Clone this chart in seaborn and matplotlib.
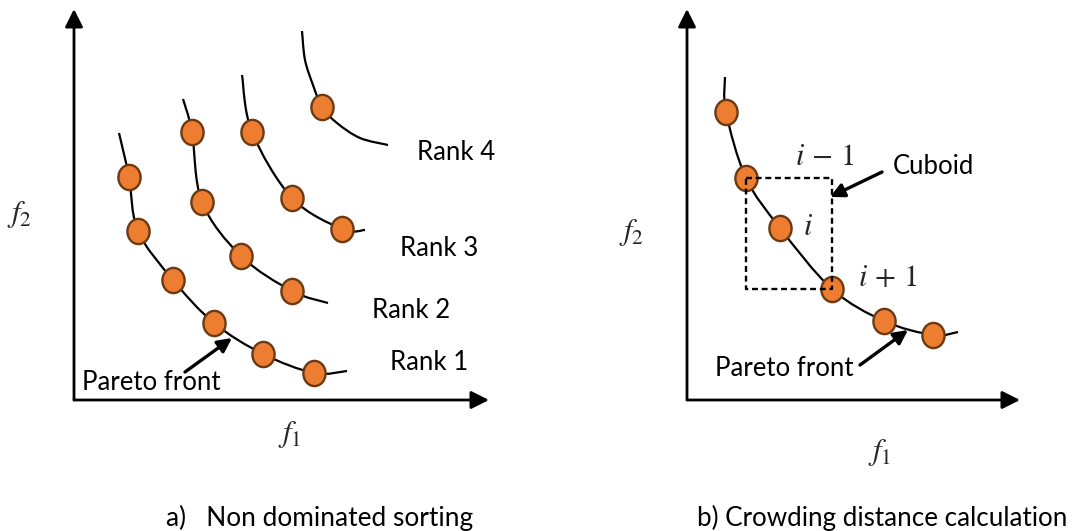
import numpy as np
import matplotlib
matplotlib.use("Agg")
import matplotlib.pyplot as plt
from matplotlib.path import Path
from matplotlib.patches import PathPatch
import seaborn as sns
import pandas as pd

sns.set_theme(style="white")
plt.rcParams["font.family"] = ["Lato", "DejaVu Sans"]
plt.rcParams["mathtext.fontset"] = "stix"

# ---- Panel a: non-dominated sorting (f1, f2 in objective units) ----
rank1_f1 = [55, 64, 99, 140, 189, 240]
rank1_f2 = [223, 169, 120, 77, 46, 27]
rank2_f1 = [118, 128, 167, 218]
rank2_f2 = [268, 198, 144, 109]
rank3_f1 = [178, 218, 268]
rank3_f2 = [268, 202, 171]
rank4_f1 = [248]
rank4_f2 = [293]

# front curves traced through each rank
curve1_f1 = [45, 55, 64, 99, 140, 189, 240, 273]
curve1_f2 = [267, 223, 169, 120, 77, 46, 27, 29]
curve2_f1 = [109, 118, 128, 167, 218, 254]
curve2_f2 = [301, 268, 198, 144, 109, 97]
curve3_f1 = [168, 178, 218, 268, 291]
curve3_f2 = [325, 268, 202, 171, 170]
curve4_f1 = [228, 231, 239, 248, 263, 286, 314]
curve4_f2 = [369, 340, 315, 293, 277, 262, 255]

rank_labels = ["Rank 1", "Rank 2", "Rank 3", "Rank 4"]

# ---- Panel b: crowding distance ----
front_f1 = [39, 59, 93, 145, 197, 246]
front_f2 = [288, 222, 172, 111, 79, 65]
curveb_f1 = [38, 39, 59, 93, 145, 197, 246, 271]
curveb_f2 = [323, 288, 222, 172, 111, 79, 65, 68]
idx_i = 2

ORANGE = "#ED7D31"
EDGE = "#6B3A12"
W, H = 1076, 531
fig = plt.figure(figsize=(W / 100, H / 100), dpi=100)


def panel_axes(ox, oy):
    ax = fig.add_axes([0, 0, 1, 1])
    ax.set_xlim(-ox, W - ox)
    ax.set_ylim(oy - H, oy)
    ax.set_facecolor("none")
    ax.axis("off")
    return ax


def smooth_path(xs, ys):
    p = np.column_stack([xs, ys]).astype(float)
    ext = np.vstack([p[0], p, p[-1]])
    verts = [p[0]]
    codes = [Path.MOVETO]
    for k in range(1, len(ext) - 2):
        p0, p1, p2, p3 = ext[k - 1], ext[k], ext[k + 1], ext[k + 2]
        c1 = p1 + (p2 - p0) / 6.0
        c2 = p2 - (p3 - p1) / 6.0
        verts += [c1, c2, p2]
        codes += [Path.CURVE4] * 3
    return Path(verts, codes)


def draw_curve(ax, xs, ys):
    ax.add_patch(PathPatch(smooth_path(xs, ys), fill=False, lw=1.6,
                           ec="black", clip_on=False, zorder=2))


circ = Path.unit_circle()
oval = Path(circ.vertices * np.array([0.88, 1.0]), circ.codes)


def draw_points(ax, xs, ys):
    df = pd.DataFrame({"f1": xs, "f2": ys})
    sns.scatterplot(data=df, x="f1", y="f2", ax=ax, marker=oval, s=330,
                    color=ORANGE, edgecolor=EDGE, linewidth=1.7,
                    clip_on=False, zorder=3, legend=False)


def draw_axes_arrows(ax, xmax, ymax):
    kw = dict(arrowstyle="-|>,head_length=0.9,head_width=0.45",
              lw=2.0, color="black", shrinkA=0, shrinkB=0)
    ax.annotate("", xy=(xmax, 0), xytext=(0, 0), arrowprops=kw,
                annotation_clip=False)
    ax.annotate("", xy=(0, ymax), xytext=(0, 0), arrowprops=kw,
                annotation_clip=False)


def pointer(ax, tip, tail):
    ax.annotate("", xy=tip, xytext=tail, annotation_clip=False,
                arrowprops=dict(arrowstyle="-|>,head_length=0.7,head_width=0.35",
                                lw=2.4, color="black", shrinkA=0, shrinkB=0))


FS = 18.5
MFS = 22
TXT = "#000000"

# ---------------- panel a ----------------
axa = panel_axes(74, 400)
draw_axes_arrows(axa, 415, 391)
for cx, cy in [(curve1_f1, curve1_f2), (curve2_f1, curve2_f2),
               (curve3_f1, curve3_f2), (curve4_f1, curve4_f2)]:
    draw_curve(axa, cx, cy)
for px, py in [(rank1_f1, rank1_f2), (rank2_f1, rank2_f2),
               (rank3_f1, rank3_f2), (rank4_f1, rank4_f2)]:
    draw_points(axa, px, py)

for lab, (lx, ly) in zip(rank_labels, [(316, 37), (298, 89), (326, 151), (343, 247)]):
    axa.text(lx, ly, lab, fontsize=FS, ha="left", va="center", color=TXT)
axa.text(8, 18, "Pareto front", fontsize=FS, ha="left", va="center", color=TXT)
pointer(axa, (158, 62), (111, 28))
axa.text(-54, 185, r"$f_2$", fontsize=MFS, ha="center", va="center")
axa.text(216, -35, r"$f_1$", fontsize=MFS, ha="center", va="center")
axa.text(166 - 74, 400 - 518, "a)   Non dominated sorting", fontsize=18.9,
         ha="left", va="center", color=TXT)

# ---------------- panel b ----------------
axb = panel_axes(687, 400)
draw_axes_arrows(axb, 333, 391)
draw_curve(axb, curveb_f1, curveb_f2)
draw_points(axb, front_f1, front_f2)

# cuboid spanned by the neighbours of point i
x_lo, y_hi = front_f1[idx_i - 1], front_f2[idx_i - 1]
x_hi, y_lo = front_f1[idx_i + 1], front_f2[idx_i + 1]
axb.plot([x_lo, x_hi, x_hi, x_lo, x_lo], [y_hi, y_hi, y_lo, y_lo, y_hi],
         ls=(0, (2.5, 1.6)), lw=1.7, color="black", clip_on=False, zorder=4)

axb.text(138, 244, r"$i\,-\,1$", fontsize=MFS, ha="center", va="center")
axb.text(121, 174, r"$i$", fontsize=MFS, ha="center", va="center")
axb.text(201, 123, r"$i\,+\,1$", fontsize=MFS, ha="center", va="center")
axb.text(206, 234, "Cuboid", fontsize=FS, ha="left", va="center", color=TXT)
pointer(axb, (143, 203), (195, 228))
axb.text(28, 32, "Pareto front", fontsize=FS, ha="left", va="center", color=TXT)
pointer(axb, (221, 70), (173, 35))
axb.text(-55, 168, r"$f_2$", fontsize=MFS, ha="center", va="center")
axb.text(193, -52, r"$f_1$", fontsize=MFS, ha="center", va="center")
axb.text(697 - 687, 400 - 518, "b) Crowding distance calculation", fontsize=18.7,
         ha="left", va="center", color=TXT)

fig.savefig("out.png", dpi=100, facecolor="white")
